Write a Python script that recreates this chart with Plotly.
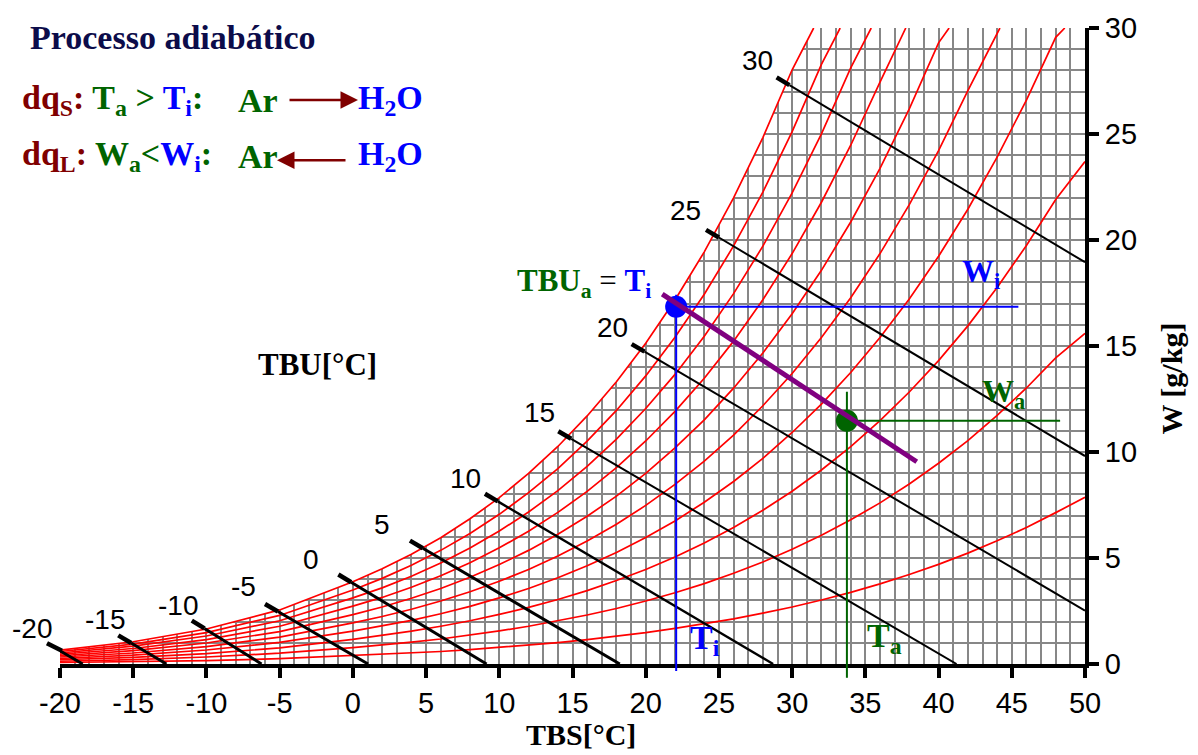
import math
import plotly.graph_objects as go

# ---------------- data ----------------
# dry-bulb temperatures (°C) at which the RH curves were read
T = [-20, -15, -10, -5, 0, 2, 4, 6, 8, 10, 12, 14, 16, 18, 20, 22, 24, 26, 28, 30,
     32, 34, 36, 38, 40, 42, 44, 46, 48, 50]

# humidity ratio W (g/kg) for each relative-humidity curve
rh10 = [0.07, 0.10, 0.16, 0.25, 0.39, 0.45, 0.51, 0.59, 0.68, 0.78, 0.89, 1.01, 1.15, 1.31, 1.48,
        1.68, 1.89, 2.13, 2.40, 2.69, 3.02, 3.38, 3.78, 4.22, 4.70, 5.23, 5.81, 6.44, 7.14, 7.86]
rh20 = [0.13, 0.21, 0.33, 0.51, 0.77, 0.89, 1.03, 1.18, 1.36, 1.56, 1.78, 2.03, 2.31, 2.62, 2.97,
        3.36, 3.79, 4.28, 4.81, 5.41, 6.07, 6.80, 7.60, 8.49, 9.47, 10.54, 11.73, 13.02, 14.44, 15.60]
rh30 = [0.20, 0.31, 0.49, 0.76, 1.16, 1.34, 1.55, 1.78, 2.04, 2.34, 2.67, 3.04, 3.46, 3.94, 4.46,
        5.05, 5.71, 6.44, 7.25, 8.15, 9.15, 10.25, 11.48, 12.83, 14.31, 15.95, 17.76, 19.74, 21.91, 23.70]
rh40 = [0.26, 0.42, 0.66, 1.02, 1.55, 1.79, 2.06, 2.37, 2.72, 3.12, 3.56, 4.07, 4.63, 5.26, 5.97,
        6.75, 7.63, 8.61, 9.70, 10.92, 12.26, 13.75, 15.40, 17.22, 19.23, 21.45, 23.91, 26.60, 29.56]
rh50 = [0.33, 0.52, 0.82, 1.27, 1.94, 2.24, 2.58, 2.97, 3.41, 3.90, 4.46, 5.09, 5.80, 6.59, 7.48,
        8.47, 9.57, 10.80, 12.18, 13.70, 15.40, 17.28, 19.36, 21.67, 24.22, 27.05]
rh60 = [0.39, 0.63, 0.99, 1.53, 2.33, 2.69, 3.10, 3.56, 4.09, 4.69, 5.36, 6.12, 6.97, 7.92, 8.99,
        10.19, 11.52, 13.01, 14.67, 16.52, 18.57, 20.85, 23.38, 26.19, 29.30]
rh70 = [0.46, 0.73, 1.15, 1.78, 2.73, 3.14, 3.62, 4.16, 4.78, 5.48, 6.26, 7.15, 8.14, 9.26, 10.52,
        11.92, 13.48, 15.23, 17.18, 19.36, 21.78, 24.47, 27.45]
rh80 = [0.52, 0.84, 1.32, 2.04, 3.12, 3.59, 4.14, 4.76, 5.47, 6.27, 7.17, 8.18, 9.32, 10.61, 12.05,
        13.66, 15.46, 17.47, 19.71, 22.22, 25.01, 28.12]
rh90 = [0.59, 0.94, 1.48, 2.29, 3.49, 4.04, 4.66, 5.36, 6.16, 7.06, 8.08, 9.22, 10.51, 11.96, 13.59,
        15.41, 17.44, 19.72, 22.26, 25.11, 28.28]
rh100 = [0.65, 1.05, 1.65, 2.55, 3.88, 4.49, 5.18, 5.96, 6.85, 7.85, 8.99, 10.26, 11.70, 13.31, 15.13,
         17.17, 19.44, 21.99, 24.83, 28.03]
rh_curves = [rh10, rh20, rh30, rh40, rh50, rh60, rh70, rh80, rh90, rh100]
# dry-bulb temperature where a curve leaves the top of the chart (W = 30)
rh_top_T = [None, None, None, 48.62, 44.19, 40.72, 37.76, 35.40, 33.28, 31.47]
W_top = 30

# wet-bulb (TBU) lines: start (label end) and end points
tbu = [-20, -15, -10, -5, 0, 5, 10, 15, 20, 25, 30]
tbu_start_T = [-20.89, -16.02, -11.00, -6.00, -0.99, 3.90, 9.02, 14.03, 19.04, 24.12, 28.94]
tbu_start_W = [0.98, 1.35, 2.05, 2.83, 4.22, 5.82, 8.03, 10.98, 15.09, 20.48, 27.67]
tbu_end_T = [-18.45, -12.73, -6.24, 1.04, 9.13, 18.23, 28.70, 41.23, 50.0, 50.0, 50.0]
tbu_end_W = [0.0, 0.0, 0.0, 0.0, 0.0, 0.0, 0.0, 0.0, 2.52, 9.81, 18.95]

# process states
Ti_T, Wi_W = 22.08, 16.85          # water state (saturated, TBU_a = T_i)
Ta_T, Wa_W = 33.74, 11.47          # air state
Ti_line_W = [-0.33, 17.42]
Wi_line_T_end = 45.45
Ta_line_W = [-0.65, 12.84]
Wa_line_T_end = 48.3
adiab_T = [21.13, 38.51]
adiab_W = [17.45, 9.54]

x_ticks = [-20, -15, -10, -5, 0, 5, 10, 15, 20, 25, 30, 35, 40, 45, 50]
y_ticks = [0, 5, 10, 15, 20, 25, 30]

# ---------------- styles ----------------
SERIF = "Liberation Serif"
SANS = "Liberation Sans"
GRID = "#878787"
DARKRED = "#800000"
GREEN = "#006400"
BLUE = "#0000ff"
NAVY = "#0c0c4a"

PL, PR, PT, PB = 60, 1085, 20, 664   # plot area in pixels
XR = [-20, 50]
YR = [0, 30]
sx = (PR - PL) / (XR[1] - XR[0])
sy = (PB - PT) / (YR[1] - YR[0])


def pxp(x):
    return (x - PL) / (PR - PL)


def pyp(y):
    return (PB - y) / (PB - PT)


def dx2p(t):  # data x -> paper
    return (t - XR[0]) / (XR[1] - XR[0])


def dy2p(w):  # data y -> paper
    return (w - YR[0]) / (YR[1] - YR[0])


fig = go.Figure()
shapes = []

# white mask above saturation curve (grid only below it)
sat_x = T[:len(rh100)] + [rh_top_T[-1]]
sat_y = rh100 + [W_top]
fig.add_trace(go.Scatter(
    x=sat_x + [sat_x[-1], XR[0] - 0.2, XR[0] - 0.2],
    y=sat_y + [W_top + 0.2, W_top + 0.2, sat_y[0]],
    fill="toself", fillcolor="white", mode="lines", line=dict(width=0, color="white"),
    hoverinfo="skip"))

# relative humidity curves
for W, top in zip(rh_curves, rh_top_T):
    xs = T[:len(W)]
    ys = list(W)
    if top is not None:
        xs = xs + [top]
        ys = ys + [W_top]
    fig.add_trace(go.Scatter(x=xs, y=ys, mode="lines",
                             line=dict(color="#ff0000", width=1.7), hoverinfo="skip"))

# wet-bulb lines
label_off = [(-14.5, -13), (-13.6, -14), (-13.7, -13.3), (-22, -15.3), (-27.3, -13.3),
             (-27.5, -14.5), (-19, -13.7), (-18.3, -16.6), (-18.7, -15), (-21, -17.3), (-18.7, -15)]
annotations = []
for i, t in enumerate(tbu):
    x0, y0, x1, y1 = tbu_start_T[i], tbu_start_W[i], tbu_end_T[i], tbu_end_W[i]
    L = math.hypot((x1 - x0) * sx, (y1 - y0) * sy)
    f = 15.0 / L
    xm, ym = x0 + f * (x1 - x0), y0 + f * (y1 - y0)
    body_w = 3 if t <= 5 else (2.4 if t == 10 else 2)
    fig.add_trace(go.Scatter(x=[xm, x1], y=[ym, y1], mode="lines",
                             line=dict(color="black", width=body_w), hoverinfo="skip"))
    fig.add_trace(go.Scatter(x=[x0, xm], y=[y0, ym], mode="lines",
                             line=dict(color="black", width=4.5), hoverinfo="skip"))
    if x0 < XR[0]:
        # part of the line that lies left of the plot area
        xe = min(xm, XR[0])
        ye = y0 + (xe - x0) / (xm - x0) * (ym - y0)
        shapes.append(dict(type="line", xref="paper", yref="paper",
                           x0=dx2p(x0), y0=dy2p(y0), x1=dx2p(xe) + 0.002, y1=dy2p(ye),
                           line=dict(color="black", width=4.5)))
    dx, dy = label_off[i]
    annotations.append(dict(x=dx2p(x0), y=dy2p(y0), xref="paper", yref="paper", text=str(t),
                            showarrow=False, xanchor="center", yanchor="middle",
                            xshift=dx, yshift=-dy + 2,
                            font=dict(family=SANS, size=28, color="black")))

# process lines (parts below the axis drawn as shapes so they are not clipped)
shapes.append(dict(type="line", xref="paper", yref="paper", x0=dx2p(Ti_T), x1=dx2p(Ti_T),
                   y0=dy2p(Ti_line_W[0]), y1=dy2p(0), line=dict(color=BLUE, width=2)))
shapes.append(dict(type="line", xref="paper", yref="paper", x0=dx2p(Ta_T), x1=dx2p(Ta_T),
                   y0=dy2p(Ta_line_W[0]), y1=dy2p(0), line=dict(color=GREEN, width=2)))
fig.add_trace(go.Scatter(x=[Ti_T, Ti_T], y=[0, Ti_line_W[1]], mode="lines",
                         line=dict(color=BLUE, width=2), hoverinfo="skip"))
fig.add_trace(go.Scatter(x=[Ti_T, Wi_line_T_end], y=[Wi_W, Wi_W], mode="lines",
                         line=dict(color=BLUE, width=2), hoverinfo="skip"))
fig.add_trace(go.Scatter(x=[Ta_T, Ta_T], y=[0, Ta_line_W[1]], mode="lines",
                         line=dict(color=GREEN, width=2), hoverinfo="skip"))
fig.add_trace(go.Scatter(x=[Ta_T, Wa_line_T_end], y=[Wa_W, Wa_W], mode="lines",
                         line=dict(color=GREEN, width=2), hoverinfo="skip"))
fig.add_trace(go.Scatter(x=[Ti_T], y=[Wi_W], mode="markers",
                         marker=dict(color=BLUE, size=22), hoverinfo="skip"))
fig.add_trace(go.Scatter(x=[Ta_T], y=[Wa_W], mode="markers",
                         marker=dict(color=GREEN, size=22), hoverinfo="skip"))
fig.add_trace(go.Scatter(x=adiab_T, y=adiab_W, mode="lines",
                         line=dict(color="#800080", width=5), hoverinfo="skip"))


def txt(x, y, text, size, xanchor="left", color="black", angle=0, family=SERIF):
    annotations.append(dict(x=pxp(x), y=pyp(y), xref="paper", yref="paper", text=text,
                            showarrow=False, xanchor=xanchor, yanchor="middle",
                            textangle=angle, font=dict(family=family, size=size, color=color)))


def c(col, s):
    return "<span style='color:%s'>%s</span>" % (col, s)


txt(28, 30, "<b>Processo adiabático</b>", 34, color=NAVY)
txt(20, 93, "<b>" + c(DARKRED, "dq<sub>S</sub>: ") + c(GREEN, "T<sub>a</sub> &gt; ")
    + c(BLUE, "T<sub>i</sub>") + c(GREEN, ":") + "</b>", 34)
txt(236, 93, "<b>Ar</b>", 34, color=GREEN)
txt(356, 93, "<b>H<sub>2</sub>O</b>", 34, color=BLUE)
txt(20, 150, "<b>" + c(DARKRED, "dq<sub>L</sub>: ") + c(GREEN, "W<sub>a</sub>&lt;")
    + c(BLUE, "W<sub>i</sub>") + c(GREEN, ":") + "</b>", 34)
txt(236, 150, "<b>Ar</b>", 34, color=GREEN)
txt(356, 150, "<b>H<sub>2</sub>O</b>", 34, color=BLUE)
txt(317, 361, "<b>TBU[°C]</b>", 31, xanchor="center")
txt(581, 735, "<b>TBS[°C]</b>", 30, xanchor="center")
txt(1172, 375, "<b>W [g/kg]</b>", 30, xanchor="center", angle=-90)
txt(515, 278, "<b>" + c(GREEN, "TBU<sub>a</sub>") + "</b>" + c("black", " = ")
    + "<b>" + c(BLUE, "T<sub>i</sub>") + "</b>", 31)
txt(960, 269, "<b>W<sub>i</sub></b>", 32, color=BLUE)
txt(980, 390, "<b>W<sub>a</sub></b>", 32, color=GREEN)
txt(688, 640, "<b>T<sub>i</sub></b>", 34, color=BLUE)
txt(865, 638, "<b>T<sub>a</sub></b>", 34, color=GREEN)

# arrows
annotations.append(dict(x=pxp(358), y=pyp(93), xref="paper", yref="paper", text="",
                        showarrow=True, ax=-70, ay=0, arrowhead=2, arrowsize=1.4,
                        arrowwidth=2.5, arrowcolor=DARKRED))
annotations.append(dict(x=pxp(277), y=pyp(154), xref="paper", yref="paper", text="",
                        showarrow=True, ax=70, ay=0, arrowhead=2, arrowsize=1.4,
                        arrowwidth=2.5, arrowcolor=DARKRED))

axis_common = dict(ticks="outside", ticklen=10, tickwidth=4, tickcolor="black",
                   showline=True, linewidth=4, linecolor="black",
                   tickfont=dict(family=SANS, size=29, color="black"),
                   showgrid=True, gridcolor=GRID, gridwidth=1.8, zeroline=False,
                   minor=dict(dtick=1, showgrid=True, gridcolor=GRID, gridwidth=1.8, ticks=""),
                   fixedrange=True)

fig.update_layout(
    width=1198, height=755, margin=dict(l=PL, r=1198 - PR, t=PT, b=755 - PB),
    paper_bgcolor="white", plot_bgcolor="white", showlegend=False,
    xaxis=dict(range=XR, tickmode="array", tickvals=x_ticks,
               ticktext=[str(v) for v in x_ticks], **axis_common),
    yaxis=dict(range=YR, side="right", tickmode="array", tickvals=y_ticks,
               ticktext=[str(v) for v in y_ticks], **axis_common),
    annotations=annotations,
    shapes=shapes,
)

fig.write_html("out.html", config={"displayModeBar": False})
